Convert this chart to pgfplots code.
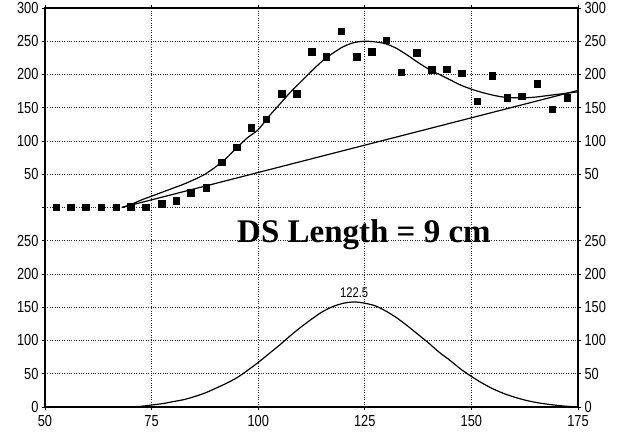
\documentclass[border=0pt]{standalone}
\usepackage{fontspec}
\setmainfont{Liberation Sans}[FakeStretch=0.8]
\newfontfamily\titlefont{Liberation Serif}
\usepackage{pgfplots}
\usepackage{pgfplotstable}
\pgfplotsset{compat=1.18}

% top panel: measured points (y in top-panel units, shifted by 300 when plotted)
\pgfplotstableread{
x v
52.6 0
56.0 0
59.5 0
63.2 0
66.7 0
70.1 1
73.6 0
77.4 6
80.8 10
84.2 22
87.8 30
91.4 68
95.0 91
98.4 120
101.9 133
105.5 171
109.0 171
112.5 234
115.9 227
119.4 265
123.1 227
126.6 234
130.0 252
133.6 203
137.2 233
140.7 207
144.2 208
147.7 202
151.4 160
154.9 198
158.4 165
161.8 167
165.5 186
169.0 148
172.5 165
}\points

% top panel: fitted curve
\pgfplotstableread{
x v
68 0
70 4
72.5 11
75 17
77.5 23
80 29
82.5 35
85 42
87.5 50
90 61
92.5 74
95 90
97.5 105
100 117
102.5 137
105 155
107.5 173
110 189
112.5 205
115 220
117.5 232
120 242
122.5 248
125 250
127.5 249
130 246
132.5 239
135 229
137.5 218
140 208
142.5 200
145 192
147.5 184
150 178
152.5 173
155 169
157.5 166
160 165
162.5 165
165 166
167.5 168
170 170
172.5 172
175 174
}\fitcurve

% top panel: straight line
\pgfplotstableread{
x v
68 0
175 176
}\baseline

% bottom panel: distribution
\pgfplotstableread{
x v
70 0
72.5 1
75 3
77.5 5
80 8
82.5 11
85 15.5
87.5 21
90 28
92.5 35.5
95 44
97.5 55
100 67
102.5 80
105 93
107.5 107
110 120
112.5 132
115 143
117.5 151
120 156
122.5 158
125 156
127.5 152
130 144
132.5 134
135 122
137.5 109
140 96
142.5 82
145 70
147.5 57
150 46
152.5 36
155 27.5
157.5 20.5
160 15
162.5 10.5
165 7
167.5 4.5
170 2.5
172.5 1
175 0
}\distrib

\begin{document}
\begin{tikzpicture}
\pgfplotsset{
  panels/.style={
    scale only axis,
    width=533pt, height=399pt,
    xmin=50, xmax=175, ymin=0, ymax=600,
    xtick={50,75,100,125,150,175},
    ytick={0,50,100,150,200,250,300,350,400,450,500,550,600},
    yticklabels={0,50,100,150,200,250,,50,100,150,200,250,300},
    tick align=outside,
    major tick length=3pt,
    tick style={black, line width=0.8pt},
    axis line style={black, line width=1.4pt},
    ticklabel style={font=\fontsize{16}{16}\selectfont},
    /pgf/number format/assume math mode=true,
    xticklabel style={yshift=-2pt},
  }
}
\begin{axis}[
  panels,
  grid=major,
  grid style={black!85, dotted, line width=0.8pt},
  clip=false,
]
\addplot[only marks, mark=square*, mark size=3.2pt, black]
  table[x=x, y expr=\thisrow{v}+300] {\points};
\addplot[black, line width=1.2pt, smooth] table[x=x, y expr=\thisrow{v}+300] {\fitcurve};
\addplot[black, line width=1.2pt] table[x=x, y expr=\thisrow{v}+300] {\baseline};
\addplot[black, line width=1.2pt, smooth] table[x=x, y=v] {\distrib};
\node[anchor=base, font=\fontsize{14}{14}\selectfont] at (axis cs:122.5,164) {122.5};
\node[anchor=base, font=\titlefont\bfseries\fontsize{33}{33}\selectfont]
  at (axis cs:124.8,247) {DS Length = 9 cm};
\end{axis}
\begin{axis}[
  panels,
  yticklabel pos=right,
  hide x axis,
]
\end{axis}
\pgfresetboundingbox
\path ([shift={(-45pt,-27pt)}]current axis.south west) rectangle ([shift={(41pt,8pt)}]current axis.north east);
\end{tikzpicture}
\end{document}
